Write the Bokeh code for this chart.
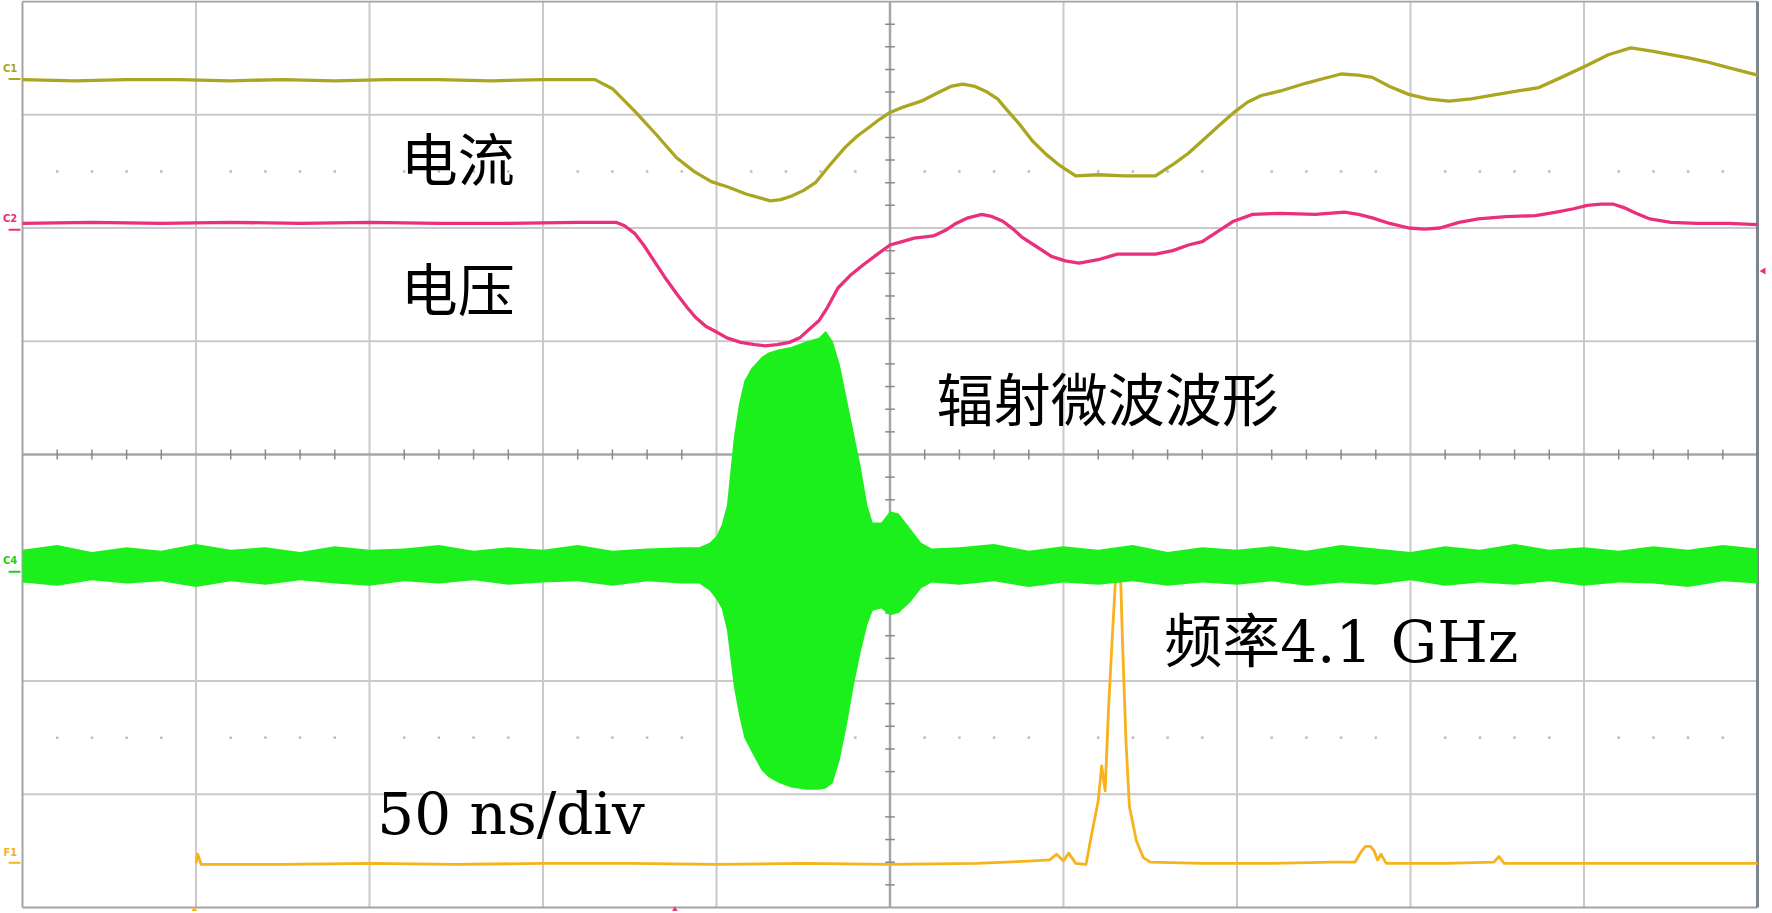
import math
from bokeh.plotting import figure
from bokeh.models import Range1d, Label
from bokeh.embed import file_html
from bokeh.resources import INLINE

# ---------------- data (time in divisions, amplitude in divisions) ----------------
# C1: current (olive)
c1_x = [0.0, 0.3, 0.6, 0.9, 1.2, 1.5, 1.8, 2.1, 2.4, 2.7, 3.0, 3.2, 3.3, 3.4, 3.53, 3.65,
        3.77, 3.87, 3.97, 4.07, 4.17, 4.24, 4.31, 4.37, 4.43, 4.50, 4.57, 4.65, 4.74, 4.81,
        4.88, 4.94, 5.00, 5.08, 5.18, 5.27, 5.35, 5.42, 5.49, 5.56, 5.62, 5.67, 5.75, 5.82,
        5.90, 5.98, 6.07, 6.20, 6.35, 6.53, 6.64, 6.72, 6.80, 6.90, 6.99, 7.06, 7.14, 7.25,
        7.40, 7.50, 7.60, 7.70, 7.78, 7.88, 7.99, 8.10, 8.22, 8.35, 8.50, 8.62, 8.74, 8.87,
        9.01, 9.14, 9.27, 9.40, 9.50, 9.61, 9.70, 9.80, 9.90, 10.0]
c1_y = [3.31, 3.30, 3.31, 3.31, 3.30, 3.31, 3.30, 3.31, 3.31, 3.30, 3.31, 3.31, 3.31, 3.23, 3.03, 2.83,
        2.62, 2.50, 2.41, 2.36, 2.30, 2.27, 2.24, 2.25, 2.28, 2.33, 2.40, 2.55, 2.71, 2.81,
        2.89, 2.96, 3.02, 3.07, 3.12, 3.19, 3.25, 3.27, 3.25, 3.20, 3.14, 3.05, 2.91, 2.77,
        2.65, 2.55, 2.46, 2.47, 2.46, 2.46, 2.57, 2.66, 2.77, 2.91, 3.03, 3.11, 3.17, 3.21,
        3.28, 3.32, 3.36, 3.35, 3.33, 3.25, 3.18, 3.14, 3.12, 3.14, 3.18, 3.21, 3.24, 3.33,
        3.43, 3.53, 3.59, 3.56, 3.53, 3.50, 3.47, 3.43, 3.39, 3.35]

# C2: voltage (pink)
c2_x = [0.0, 0.4, 0.8, 1.2, 1.6, 2.0, 2.4, 2.8, 3.2, 3.42, 3.47, 3.53, 3.58, 3.64, 3.70,
        3.77, 3.83, 3.88, 3.94, 3.99, 4.06, 4.14, 4.22, 4.28, 4.35, 4.42, 4.48, 4.53, 4.59,
        4.64, 4.70, 4.77, 4.85, 4.92, 5.00, 5.07, 5.14, 5.25, 5.32, 5.38, 5.45, 5.53, 5.59,
        5.65, 5.71, 5.76, 5.85, 5.93, 6.01, 6.09, 6.20, 6.31, 6.42, 6.53, 6.63, 6.72, 6.80,
        6.89, 6.98, 7.09, 7.25, 7.45, 7.62, 7.70, 7.78, 7.88, 7.99, 8.08, 8.17, 8.28, 8.39,
        8.55, 8.72, 8.84, 8.94, 9.02, 9.10, 9.17, 9.23, 9.30, 9.38, 9.50, 9.65, 9.83, 10.0]
c2_y = [2.04, 2.05, 2.04, 2.05, 2.04, 2.05, 2.04, 2.04, 2.05, 2.05, 2.02, 1.95, 1.85, 1.71, 1.57,
        1.42, 1.30, 1.21, 1.13, 1.09, 1.03, 0.99, 0.97, 0.96, 0.97, 0.99, 1.03, 1.10, 1.18,
        1.30, 1.47, 1.58, 1.68, 1.76, 1.85, 1.88, 1.91, 1.93, 1.98, 2.04, 2.09, 2.12, 2.10,
        2.06, 1.99, 1.92, 1.83, 1.75, 1.71, 1.69, 1.72, 1.77, 1.77, 1.77, 1.80, 1.85, 1.88,
        1.97, 2.06, 2.12, 2.13, 2.12, 2.14, 2.12, 2.09, 2.04, 2.00, 1.99, 2.00, 2.05, 2.08,
        2.10, 2.11, 2.14, 2.17, 2.20, 2.21, 2.21, 2.18, 2.13, 2.08, 2.05, 2.04, 2.04, 2.03]

# C4: radiated microwave (green) -- upper / lower envelope of the trace
c4_x = [0.0, 0.2, 0.4, 0.6, 0.8, 1.0, 1.2, 1.4, 1.6, 1.8, 2.0, 2.2, 2.4, 2.6, 2.8, 3.0, 3.2, 3.4, 3.6, 3.8,
        3.90, 3.96, 4.00, 4.03, 4.06, 4.08, 4.10, 4.13, 4.16, 4.20, 4.26, 4.30, 4.36, 4.43,
        4.52, 4.59, 4.63, 4.67, 4.71, 4.75, 4.79, 4.83, 4.87, 4.90, 4.95, 5.00, 5.05, 5.12, 5.18, 5.24,
        5.4, 5.6, 5.8, 6.0, 6.2, 6.4, 6.6, 6.8, 7.0, 7.2, 7.4, 7.6, 7.8, 8.0, 8.2, 8.4, 8.6, 8.8,
        9.0, 9.2, 9.4, 9.6, 9.8, 10.0]
c4_hi = [-0.84, -0.80, -0.86, -0.82, -0.85, -0.79, -0.84, -0.82, -0.86, -0.81, -0.84, -0.83, -0.80, -0.85,
         -0.82, -0.84, -0.80, -0.85, -0.83, -0.82,
         -0.82, -0.78, -0.72, -0.62, -0.45, -0.15, 0.15, 0.45, 0.65, 0.76, 0.86, 0.90, 0.93, 0.95,
         1.00, 1.03, 1.09, 1.00, 0.80, 0.50, 0.20, -0.10, -0.45, -0.60, -0.60, -0.50, -0.52, -0.66, -0.78, -0.83,
         -0.82, -0.79, -0.85, -0.81, -0.84, -0.80, -0.86, -0.82, -0.84, -0.81, -0.85, -0.80, -0.83, -0.86,
         -0.81, -0.84, -0.79, -0.84, -0.82, -0.85, -0.81, -0.84, -0.80, -0.83]
c4_lo = [-1.13, -1.16, -1.11, -1.14, -1.12, -1.17, -1.12, -1.15, -1.11, -1.14, -1.16, -1.12, -1.14, -1.11,
         -1.15, -1.13, -1.12, -1.16, -1.12, -1.14,
         -1.14, -1.20, -1.28, -1.36, -1.55, -1.80, -2.05, -2.30, -2.50, -2.62, -2.79, -2.85, -2.90, -2.94,
         -2.96, -2.96, -2.95, -2.90, -2.70, -2.40, -2.05, -1.75, -1.50, -1.38, -1.36, -1.42, -1.40, -1.30, -1.18, -1.13,
         -1.15, -1.12, -1.17, -1.13, -1.15, -1.12, -1.16, -1.13, -1.15, -1.12, -1.16, -1.13, -1.15, -1.11,
         -1.16, -1.13, -1.15, -1.12, -1.16, -1.13, -1.14, -1.17, -1.12, -1.14]

# F1: frequency trace (orange)
f1_x = [1.00, 1.01, 1.03, 1.5, 2.0, 2.5, 3.0, 3.5, 4.0, 4.5, 5.0, 5.5, 5.8, 5.92, 5.96, 6.00,
        6.03, 6.07, 6.13, 6.155, 6.20, 6.22, 6.24, 6.26, 6.28, 6.30, 6.315, 6.33, 6.34, 6.36,
        6.38, 6.42, 6.46, 6.50, 6.8, 7.2, 7.55, 7.68, 7.71, 7.74, 7.77, 7.79, 7.81, 7.83, 7.86,
        8.2, 8.48, 8.51, 8.54, 9.0, 9.5, 10.0]
f1_y = [-3.61, -3.53, -3.62, -3.62, -3.61, -3.62, -3.61, -3.61, -3.62, -3.61, -3.62, -3.61, -3.59, -3.58, -3.53, -3.59,
        -3.52, -3.61, -3.62, -3.41, -3.06, -2.75, -2.97, -2.23, -1.65, -1.10, -1.07, -1.12, -1.65, -2.53,
        -3.11, -3.41, -3.56, -3.60, -3.61, -3.61, -3.60, -3.60, -3.52, -3.46, -3.46, -3.50, -3.58, -3.53, -3.61,
        -3.61, -3.60, -3.55, -3.61, -3.61, -3.61, -3.61]

labels = ["电流", "电压", "辐射微波波形", "频率4.1 GHz", "50 ns/div"]
channel_names = ["C1", "C2", "C4", "F1"]
channel_level = [3.39, 2.06, -0.96, -3.53]
trigger_x = [0.99, 3.76]
offset_marker_y = [1.62]

# ---------------- figure ----------------
W, H = 1768, 911
DIV_X = 173.5
DIV_Y = 113.25
p = figure(width=W, height=H,
           x_range=Range1d(-22 / DIV_X, 10 + 11 / DIV_X),
           y_range=Range1d(-4 - 4 / DIV_Y, 4 + 1 / DIV_Y),
           x_axis_type=None, y_axis_type=None, toolbar_location=None,
           output_backend="svg", min_border=0)
p.outline_line_color = None
p.background_fill_color = "white"
p.border_fill_color = "white"

GRID = "#c9c9c9"
CENTER = "#a6a6a6"
gx = [k for k in range(1, 10) if k != 5]
p.segment(x0=gx, y0=[-4] * len(gx), x1=gx, y1=[4] * len(gx), line_color=GRID, line_width=2)
gy = [k for k in range(-3, 4) if k != 0]
p.segment(x0=[0] * len(gy), y0=gy, x1=[10] * len(gy), y1=gy, line_color=GRID, line_width=2)
p.segment(x0=[5, 0], y0=[-4, 0], x1=[5, 10], y1=[4, 0], line_color=CENTER, line_width=2.5)

# minor ticks on the centre lines
tx = [k / 5 for k in range(1, 50) if k % 5]
p.segment(x0=tx, y0=[-0.045] * len(tx), x1=tx, y1=[0.045] * len(tx),
          line_color="#8a8a8a", line_width=1.5)
ty = [k / 5 for k in range(-19, 20) if k % 5]
p.segment(x0=[4.972] * len(ty), y0=ty, x1=[5.028] * len(ty), y1=ty,
          line_color="#8a8a8a", line_width=1.5)
# dotted rows
p.scatter(x=tx + tx, y=[2.5] * len(tx) + [-2.5] * len(tx), marker="square",
          size=2.5, fill_color="#bdbdbd", line_color=None)

# frame border
p.segment(x0=[0, 0, 0], y0=[-4, -4, 4], x1=[0, 10, 10], y1=[4, -4, 4],
          line_color="#a4a4a4", line_width=2)
p.segment(x0=[10], y0=[-4], x1=[10], y1=[4], line_color="#7d848c", line_width=3)

# traces
C1C, C2C, C4C, F1C = "#aaa622", "#ea2f7c", "#1cf01c", "#f7b21c"
p.line(c1_x, c1_y, line_color=C1C, line_width=3.3, line_join="round")
p.line(c2_x, c2_y, line_color=C2C, line_width=3.3, line_join="round")
p.line(f1_x, f1_y, line_color=F1C, line_width=2.8, line_join="round")
p.varea(x=c4_x, y1=c4_lo, y2=c4_hi, fill_color=C4C)

# channel tags on the left, with their small underline bars
ch_col = [C1C, C2C, "#1cd01c", F1C]
for name, yy, col in zip(channel_names, channel_level, ch_col):
    p.add_layout(Label(x=-0.03, y=yy + 0.02, text=name, text_font="DejaVu Sans",
                       text_font_size="10px", text_font_style="bold", text_baseline="middle",
                       text_align="right", text_color=col))
p.segment(x0=[-0.08] * 4, y0=[v - 0.075 for v in channel_level],
          x1=[-0.012] * 4, y1=[v - 0.075 for v in channel_level],
          line_color=ch_col, line_width=2)
# channel-2 offset marker on the right edge, trigger markers at the bottom
p.scatter(x=[10.035], y=offset_marker_y, marker="triangle", angle=math.pi / 2, size=7,
          fill_color=C2C, line_color=None)
p.scatter(x=trigger_x, y=[-4.025] * 2, marker="triangle", size=7,
          fill_color=[F1C, C2C], line_color=None)

# text annotations
CJK = "Noto Sans CJK SC"
p.add_layout(Label(x=2.18, y=2.636, text=labels[0], text_font=CJK, text_font_size="57px",
                   text_baseline="middle", text_align="left", text_color="black"))
p.add_layout(Label(x=2.18, y=1.489, text=labels[1], text_font=CJK, text_font_size="57px",
                   text_baseline="middle", text_align="left", text_color="black"))
p.add_layout(Label(x=5.27, y=0.52, text=labels[2], text_font=CJK, text_font_size="57px",
                   text_baseline="middle", text_align="left", text_color="black"))
p.add_layout(Label(x=6.58, y=-1.657, text=labels[3], text_font="DejaVu Serif, Noto Sans CJK SC",
                   text_font_size="58px", text_baseline="alphabetic", text_align="left",
                   text_color="black"))
p.add_layout(Label(x=2.045, y=-3.17, text=labels[4], text_font="DejaVu Serif",
                   text_font_size="58px", text_baseline="alphabetic", text_align="left",
                   text_color="black"))

open("out.html", "w").write(file_html(p, INLINE))
